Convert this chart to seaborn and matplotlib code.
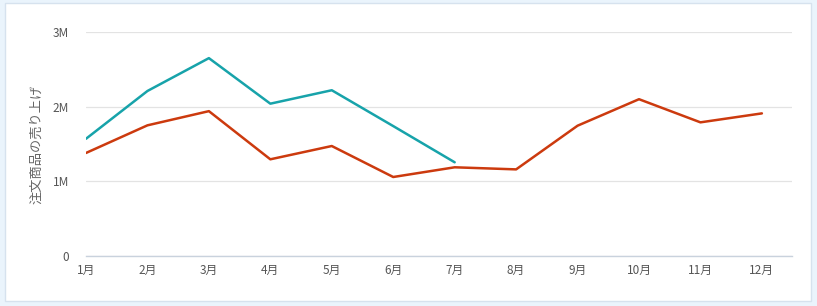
import numpy as np
import pandas as pd
import matplotlib
matplotlib.use("Agg")
import matplotlib.pyplot as plt
import seaborn as sns
from matplotlib.patches import Rectangle
from matplotlib.ticker import FixedLocator

months = ["1月", "2月", "3月", "4月", "5月", "6月", "7月", "8月", "9月", "10月", "11月", "12月"]
series_teal = [1.57, 2.21, 2.65, 2.04, 2.22, 1.74, 1.255, None, None, None, None, None]
series_red = [1.38, 1.75, 1.94, 1.295, 1.473, 1.058, 1.188, 1.16, 1.745, 2.10, 1.79, 1.91]
y_ticks = [0, 1e6, 2e6, 3e6]
y_tick_labels = ["0", "1M", "2M", "3M"]
y_label = "注文商品の売り上げ"

sns.set_theme(style="white")
plt.rcParams['font.family'] = ['Noto Sans CJK JP', 'DejaVu Sans']

df = pd.DataFrame({
    "month": months,
    "teal": [v * 1e6 if v is not None else np.nan for v in series_teal],
    "red": [v * 1e6 for v in series_red],
})

fig = plt.figure(figsize=(8.17, 3.06), dpi=100)
fig.patch.set_facecolor("#eaf4fc")
fig.patches.append(Rectangle((5 / 817, 1 - 301 / 306), 806 / 817, 298 / 306,
                             transform=fig.transFigure, facecolor="white",
                             edgecolor="#d6e2ee", linewidth=1.0, zorder=-5))

ax = fig.add_axes([86 / 817, 1 - 256 / 306, (792 - 86) / 817, (256 - 32) / 306])
ax.set_zorder(5)
ax.set_facecolor("none")

sns.lineplot(data=df, x="month", y="red", ax=ax, color="#cc3a0e", linewidth=1.8, sort=False)
sns.lineplot(data=df.dropna(), x="month", y="teal", ax=ax, color="#17a3aa", linewidth=1.8, sort=False)

ax.set_xlim(0, 11.49)
ax.set_ylim(0, 3e6)
ax.yaxis.set_major_locator(FixedLocator(y_ticks))
ax.set_yticklabels(y_tick_labels)
ax.grid(axis="y", color="#e3e3e3", linewidth=0.9)
ax.grid(axis="x", visible=False)
for s in ["top", "right", "left"]:
    ax.spines[s].set_visible(False)
ax.spines["bottom"].set_color("#c9d2dd")
ax.spines["bottom"].set_linewidth(1.0)
ax.tick_params(axis="both", length=0, labelsize=8.5, colors="#555555")
ax.tick_params(axis="y", pad=12)
ax.tick_params(axis="x", pad=6)
ax.set_xlabel("")
ax.set_ylabel(y_label, fontsize=9.5, color="#666666")
ax.yaxis.set_label_coords(-0.061, 0.5)

fig.savefig("out.png", dpi=100, facecolor=fig.get_facecolor())
